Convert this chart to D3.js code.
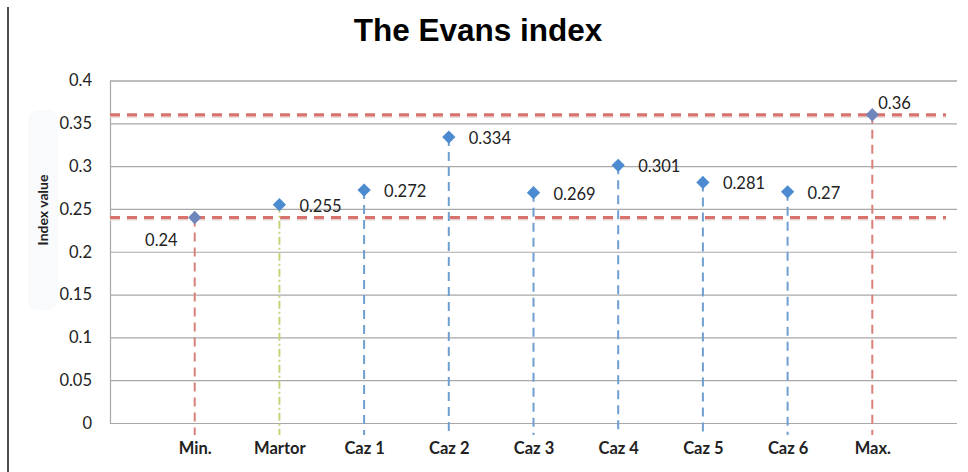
<!DOCTYPE html>
<html>
<head>
<meta charset="utf-8">
<script src="https://cdn.jsdelivr.net/npm/d3@7"></script>
<style>
  body { margin: 0; background: #fff; }
  svg { display: block; }
</style>
</head>
<body>
<svg></svg>
<script>
let categories = ['Min.', 'Martor', 'Caz 1', 'Caz 2', 'Caz 3', 'Caz 4', 'Caz 5', 'Caz 6', 'Max.']
let values = [0.24, 0.255, 0.272, 0.334, 0.269, 0.301, 0.281, 0.27, 0.36]
let yTicks = [0, 0.05, 0.1, 0.15, 0.2, 0.25, 0.3, 0.35, 0.4]
let limitLines = [0.24, 0.36]

let width = 968
let height = 472
let plotLeft = 110
let plotRight = 957
let plotTop = 80.5
let plotBottom = 423

let svg = d3.select('svg').attr('width', width).attr('height', height)

let xScale = d3.scalePoint()
               .domain(categories)
               .range([plotLeft, plotRight])
               .padding(1)

let yScale = d3.scaleLinear()
               .domain([0, 0.4])
               .range([plotBottom, plotTop])

let dropColor = (name) => {
    if (name == 'Min.' || name == 'Max.') return '#d9807a'
    if (name == 'Martor') return '#c9d47a'
    return '#6f9fd0'
}

// page border on the left
svg.append('line')
   .attr('x1', 8).attr('x2', 8)
   .attr('y1', 7).attr('y2', height)
   .attr('stroke', '#111').attr('stroke-width', 1.5)

// title
svg.append('text')
   .attr('x', 478).attr('y', 41)
   .attr('text-anchor', 'middle')
   .style('font-family', 'Liberation Sans, Arial, sans-serif')
   .style('font-weight', 'bold')
   .style('font-size', '31.5px')
   .text('The Evans index')

// axis title
svg.append('rect')
   .attr('x', 28).attr('y', 110).attr('width', 30).attr('height', 200)
   .attr('rx', 10).attr('fill', '#f8fafc')
svg.append('text')
   .attr('transform', 'translate(48, 210) rotate(-90)')
   .attr('text-anchor', 'middle')
   .style('font-family', 'Lato, sans-serif')
   .style('font-weight', 'bold')
   .style('font-size', '14px')
   .attr('fill', '#222')
   .text('Index value')

// grid
let yAxis = d3.axisLeft(yScale)
              .tickValues(yTicks)
              .tickSize(-(plotRight - plotLeft))
              .tickPadding(18)
              .tickFormat((d) => d3.format('')(+d.toFixed(2)))
let gy = svg.append('g')
            .attr('id', 'y-axis')
            .attr('transform', 'translate(' + plotLeft + ', 0)')
            .call(yAxis)
gy.select('.domain').attr('stroke', '#a8a8a8').attr('stroke-width', 1.2)
gy.selectAll('.tick line').attr('stroke', '#a8a8a8').attr('stroke-width', 1.2)
gy.selectAll('.tick text')
  .style('font-family', 'Lato, sans-serif')
  .style('font-size', '16.5px')
  .attr('fill', '#222')

// category labels
let xAxis = d3.axisBottom(xScale).tickSize(0).tickPadding(19)
let gx = svg.append('g')
            .attr('id', 'x-axis')
            .attr('transform', 'translate(0, ' + plotBottom + ')')
            .call(xAxis)
gx.select('.domain').remove()
gx.selectAll('.tick text')
  .style('font-family', 'Lato, sans-serif')
  .style('font-weight', 'bold')
  .style('font-size', '16.5px')
  .attr('fill', '#222')

// min / max dashed reference lines
limitLines.forEach((v) => {
    svg.append('line')
       .attr('x1', plotLeft).attr('x2', 946)
       .attr('y1', yScale(v) + 2).attr('y2', yScale(v) + 2)
       .attr('stroke', '#e6d2d0').attr('stroke-width', 2)
       .attr('stroke-dasharray', '10,7')
    svg.append('line')
       .attr('x1', plotLeft).attr('x2', 946)
       .attr('y1', yScale(v)).attr('y2', yScale(v))
       .attr('stroke', '#d7726c').attr('stroke-width', 3)
       .attr('stroke-dasharray', '10,7')
})

// drop lines
svg.selectAll('.drop')
   .data(values)
   .enter()
   .append('line')
   .attr('class', 'drop')
   .attr('x1', (d, i) => xScale(categories[i]))
   .attr('x2', (d, i) => xScale(categories[i]))
   .attr('y1', (d) => yScale(d))
   .attr('y2', plotBottom + 12)
   .attr('stroke', (d, i) => dropColor(categories[i]))
   .attr('stroke-width', 2)
   .attr('stroke-dasharray', (d, i) => categories[i] == 'Martor' ? '8,3,2,3' : '9,6')

// markers
svg.selectAll('.marker')
   .data(values)
   .enter()
   .append('path')
   .attr('class', 'marker')
   .attr('d', d3.symbol(d3.symbolSquare, 88))
   .attr('transform', (d, i) => 'translate(' + xScale(categories[i]) + ',' + yScale(d) + ') rotate(45)')
   .attr('fill', (d, i) => (categories[i] == 'Min.' || categories[i] == 'Max.') ? '#6f86bd' : '#4d8bd0')

// value labels
svg.selectAll('.val')
   .data(values)
   .enter()
   .append('text')
   .attr('class', 'val')
   .attr('text-anchor', (d, i) => categories[i] == 'Min.' ? 'end' : 'start')
   .attr('x', (d, i) => {
       if (categories[i] == 'Min.') return xScale(categories[i]) - 17
       if (categories[i] == 'Max.') return xScale(categories[i]) + 6
       return xScale(categories[i]) + 20
   })
   .attr('y', (d, i) => {
       if (categories[i] == 'Min.') return yScale(d) + 28
       if (categories[i] == 'Max.') return yScale(d) - 6
       return yScale(d) + 7
   })
   .style('font-family', 'Lato, sans-serif')
   .style('font-size', '16.5px')
   .attr('fill', '#222')
   .text((d) => d)
</script>
</body>
</html>
